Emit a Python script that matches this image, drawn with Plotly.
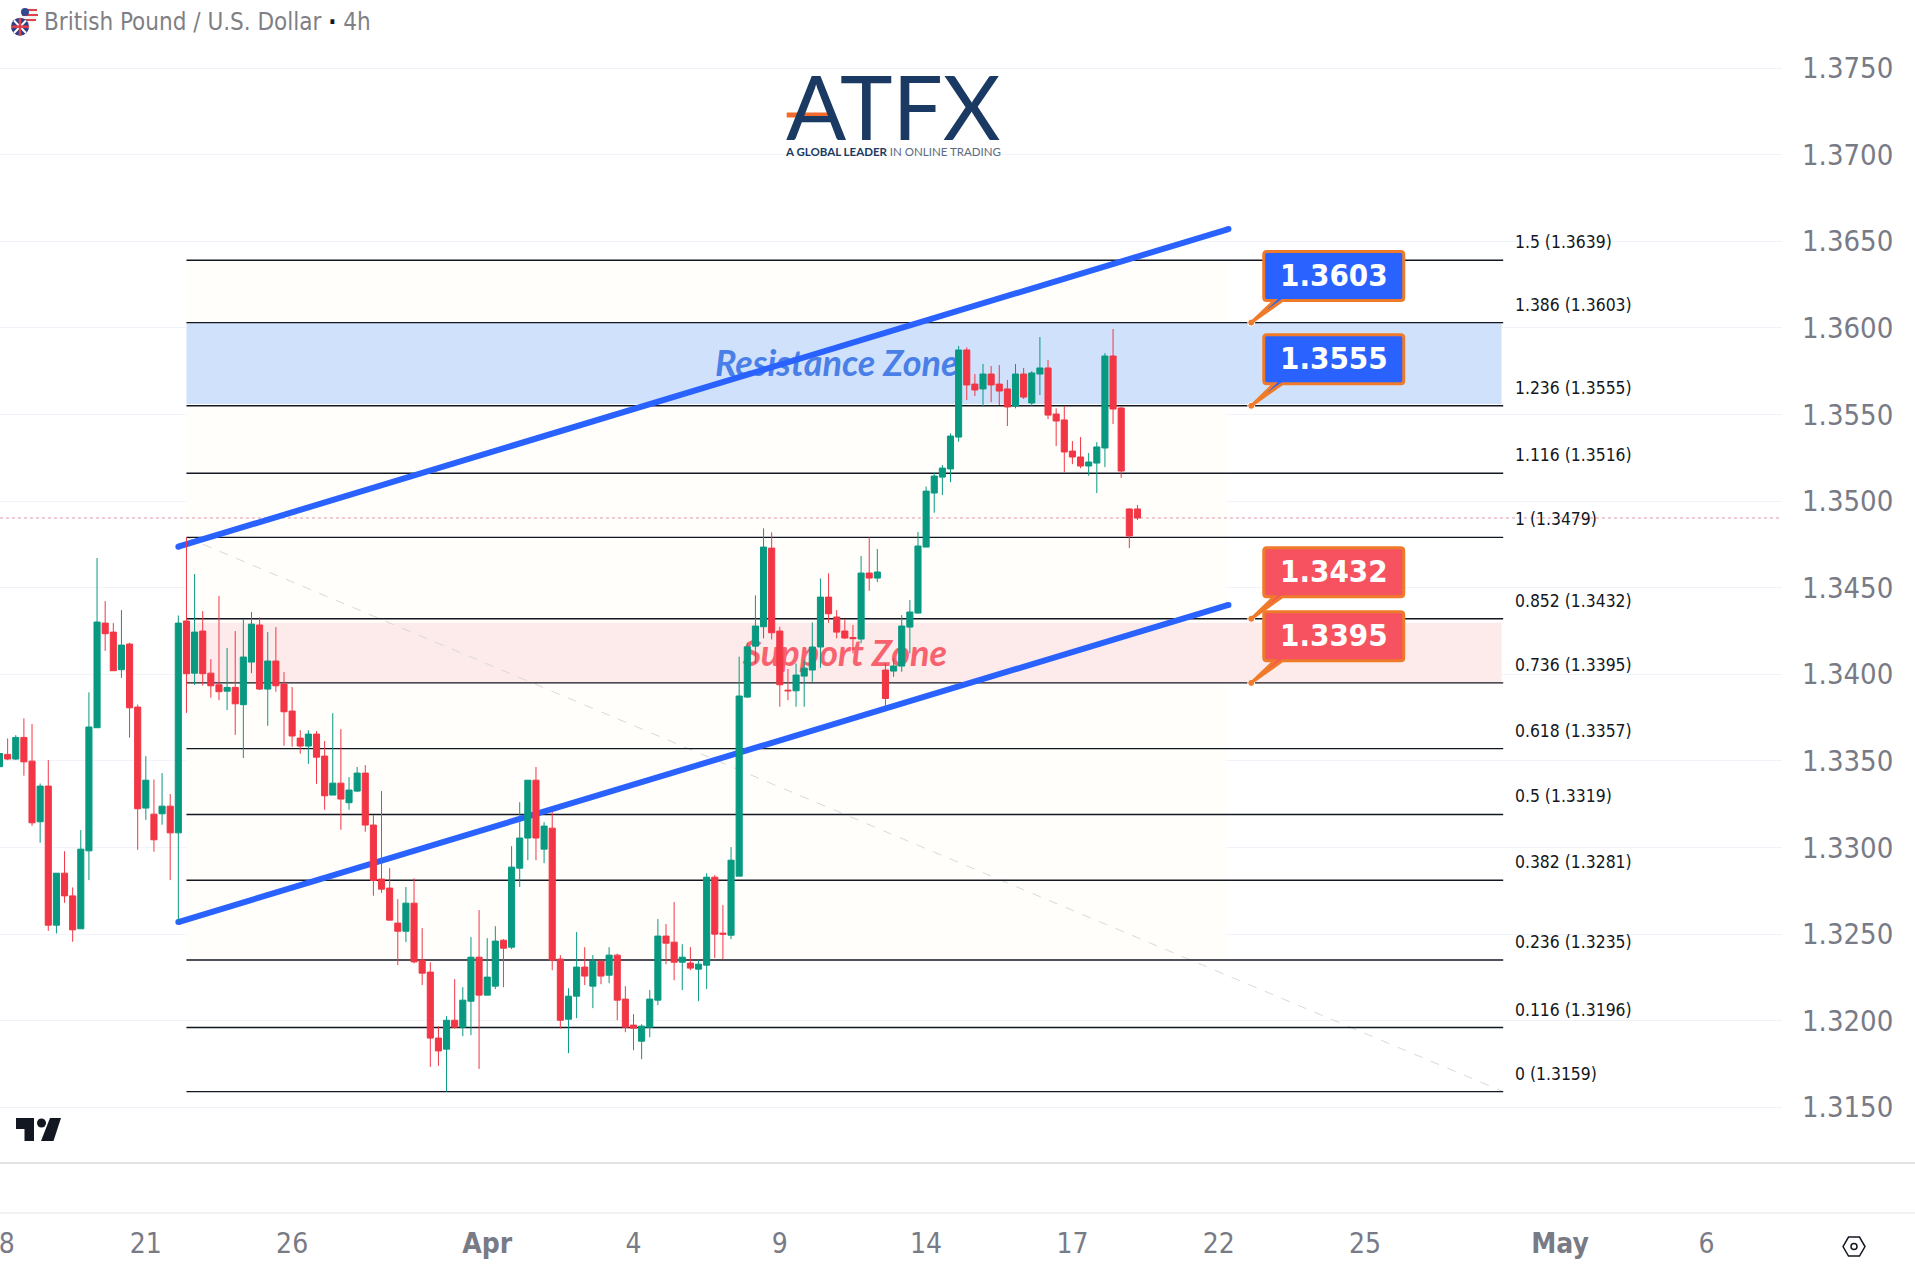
#!/usr/bin/env python
# -*- coding: utf-8 -*-
"""GBP/USD 4h chart with fibonacci levels and support / resistance zones."""

import plotly.graph_objects as go

# bar number 0 is the bar under the "21" date label
bar_index = list(range(-18, 123))

open_prices = [
    1.33466, 1.33537, 1.33510, 1.33635, 1.33498, 1.33148, 1.33354, 1.32551, 1.32851, 1.32720,
    1.32530, 1.32980, 1.33691, 1.34295, 1.34243, 1.34026, 1.34174, 1.33810, 1.33227, 1.33192,
    1.33194, 1.33238, 1.33084, 1.34307, 1.34006, 1.34249, 1.34006, 1.33939, 1.33902, 1.33924,
    1.33824, 1.34070, 1.34284, 1.33914, 1.34076, 1.33943, 1.33787, 1.33631, 1.33585, 1.33654,
    1.33527, 1.33302, 1.33371, 1.33258, 1.33325, 1.33429, 1.33129, 1.32817, 1.32765, 1.32563,
    1.32516, 1.32678, 1.32349, 1.32280, 1.31899, 1.31835, 1.32002, 1.31962, 1.32112, 1.32366,
    1.32147, 1.32199, 1.32464, 1.32424, 1.32880, 1.33054, 1.33388, 1.32990, 1.33111, 1.32355,
    1.32008, 1.32141, 1.32309, 1.32199, 1.32343, 1.32262, 1.32378, 1.32124, 1.31974, 1.31881,
    1.31962, 1.32118, 1.32488, 1.32453, 1.32337, 1.32332, 1.32297, 1.32320, 1.32828, 1.32505,
    1.32493, 1.32834, 1.33868, 1.34162, 1.34274, 1.34728, 1.34249, 1.33908, 1.33904, 1.33989,
    1.34024, 1.34157, 1.34445, 1.34330, 1.34249, 1.34212, 1.34203, 1.34584, 1.34555, 1.34024,
    1.34018, 1.34047, 1.34272, 1.34353, 1.34734, 1.35046, 1.35138, 1.35185, 1.35369, 1.35872,
    1.35675, 1.35647, 1.35733, 1.35675, 1.35647, 1.35548, 1.35733, 1.35566, 1.35733, 1.35768,
    1.35502, 1.35468, 1.35288, 1.35254, 1.35202, 1.35219, 1.35306, 1.35837, 1.35537, 1.34954,
    1.34954,
]
high_prices = [
    1.33643, 1.33629, 1.33648, 1.33745, 1.33712, 1.33369, 1.33504, 1.32851, 1.32978, 1.32769,
    1.33100, 1.33895, 1.34671, 1.34422, 1.34295, 1.34370, 1.34182, 1.33825, 1.33527, 1.33392,
    1.33429, 1.33308, 1.34339, 1.34790, 1.34578, 1.34364, 1.34087, 1.34451, 1.34151, 1.34249,
    1.34318, 1.34359, 1.34328, 1.34243, 1.34272, 1.34012, 1.33926, 1.33677, 1.33677, 1.33671,
    1.33614, 1.33775, 1.33683, 1.33406, 1.33464, 1.33475, 1.33186, 1.33325, 1.32880, 1.32701,
    1.32771, 1.32821, 1.32534, 1.32337, 1.31968, 1.32026, 1.32239, 1.32193, 1.32482, 1.32638,
    1.32476, 1.32545, 1.32470, 1.33007, 1.33261, 1.33388, 1.33464, 1.33146, 1.33204, 1.32378,
    1.32187, 1.32511, 1.32424, 1.32378, 1.32343, 1.32424, 1.32387, 1.32199, 1.32037, 1.31979,
    1.32176, 1.32586, 1.32557, 1.32684, 1.32441, 1.32424, 1.32349, 1.32851, 1.32840, 1.32667,
    1.33002, 1.34101, 1.34182, 1.34455, 1.34842, 1.34819, 1.34274, 1.34030, 1.34062, 1.34081,
    1.34299, 1.34553, 1.34582, 1.34370, 1.34318, 1.34284, 1.34682, 1.34790, 1.34723, 1.34062,
    1.34091, 1.34341, 1.34428, 1.34821, 1.35083, 1.35165, 1.35208, 1.35390, 1.35895, 1.35887,
    1.35733, 1.35791, 1.35779, 1.35785, 1.35699, 1.35791, 1.35768, 1.35750, 1.35947, 1.35814,
    1.35535, 1.35548, 1.35346, 1.35369, 1.35277, 1.35340, 1.35854, 1.35993, 1.35543, 1.34957,
    1.34977,
]
low_prices = [
    1.33442, 1.33504, 1.33504, 1.33414, 1.33125, 1.33027, 1.32518, 1.32503, 1.32680, 1.32455,
    1.32530, 1.32811, 1.33691, 1.34135, 1.34020, 1.33979, 1.33633, 1.32986, 1.33159, 1.32975,
    1.33131, 1.32811, 1.32570, 1.33777, 1.33939, 1.33935, 1.33864, 1.33850, 1.33793, 1.33650,
    1.33516, 1.34006, 1.33908, 1.33702, 1.33899, 1.33587, 1.33581, 1.33541, 1.33483, 1.33367,
    1.33217, 1.33302, 1.33102, 1.33217, 1.33319, 1.33090, 1.32721, 1.32738, 1.32580, 1.32320,
    1.32453, 1.32330, 1.32205, 1.31733, 1.31739, 1.31589, 1.31954, 1.31910, 1.31916, 1.31721,
    1.32147, 1.32182, 1.32193, 1.32413, 1.32771, 1.32926, 1.32926, 1.32909, 1.32291, 1.31954,
    1.31812, 1.32014, 1.32205, 1.32072, 1.32210, 1.32216, 1.32002, 1.31933, 1.31829, 1.31777,
    1.31904, 1.32089, 1.32326, 1.32233, 1.32176, 1.32291, 1.32112, 1.32182, 1.32361, 1.32355,
    1.32470, 1.32834, 1.33864, 1.34062, 1.34207, 1.34201, 1.33812, 1.33850, 1.33812, 1.33812,
    1.33956, 1.34037, 1.34297, 1.34207, 1.34203, 1.34120, 1.34178, 1.34482, 1.34532, 1.33812,
    1.33985, 1.34014, 1.34120, 1.34349, 1.34734, 1.34932, 1.35034, 1.35109, 1.35342, 1.35583,
    1.35606, 1.35548, 1.35571, 1.35554, 1.35433, 1.35535, 1.35589, 1.35548, 1.35612, 1.35473,
    1.35317, 1.35167, 1.35213, 1.35190, 1.35146, 1.35046, 1.35196, 1.35444, 1.35134, 1.34728,
    1.34890,
]
close_prices = [
    1.33542, 1.33510, 1.33635, 1.33494, 1.33142, 1.33354, 1.32551, 1.32851, 1.32720, 1.32524,
    1.32990, 1.33695, 1.34301, 1.34234, 1.34020, 1.34168, 1.33806, 1.33223, 1.33388, 1.33044,
    1.33238, 1.33084, 1.34295, 1.34003, 1.34243, 1.34003, 1.33933, 1.33899, 1.33924, 1.33829,
    1.34099, 1.34289, 1.33914, 1.34076, 1.33933, 1.33783, 1.33643, 1.33585, 1.33654, 1.33521,
    1.33298, 1.33371, 1.33279, 1.33331, 1.33429, 1.33129, 1.32809, 1.32759, 1.32580, 1.32516,
    1.32678, 1.32339, 1.32274, 1.31899, 1.31825, 1.32002, 1.31962, 1.32118, 1.32366, 1.32147,
    1.32251, 1.32459, 1.32418, 1.32886, 1.33054, 1.33388, 1.33054, 1.33123, 1.32349, 1.32002,
    1.32141, 1.32309, 1.32257, 1.32343, 1.32257, 1.32378, 1.32118, 1.31962, 1.31956, 1.31968,
    1.32124, 1.32488, 1.32447, 1.32337, 1.32366, 1.32303, 1.32326, 1.32828, 1.32499, 1.32499,
    1.32926, 1.33874, 1.34158, 1.34278, 1.34734, 1.34239, 1.33939, 1.33904, 1.33995, 1.34035,
    1.34157, 1.34445, 1.34349, 1.34243, 1.34209, 1.34205, 1.34584, 1.34555, 1.34590, 1.33860,
    1.34047, 1.34278, 1.34359, 1.34740, 1.35057, 1.35144, 1.35190, 1.35375, 1.35872, 1.35670,
    1.35641, 1.35733, 1.35670, 1.35635, 1.35543, 1.35733, 1.35600, 1.35739, 1.35768, 1.35496,
    1.35462, 1.35283, 1.35254, 1.35202, 1.35225, 1.35312, 1.35837, 1.35531, 1.35173, 1.34798,
    1.34902,
]

fib_ratios = ["1.5", "1.386", "1.236", "1.116", "1", "0.852", "0.736", "0.618", "0.5", "0.382", "0.236", "0.116", "0"]
fib_prices = [1.3639, 1.3603, 1.3555, 1.3516, 1.3479, 1.3432, 1.3395, 1.3357, 1.3319, 1.3281, 1.3235, 1.3196, 1.3159]

price_ticks = [1.315, 1.32, 1.325, 1.33, 1.335, 1.34, 1.345, 1.35, 1.355, 1.36, 1.365, 1.37, 1.375]
date_ticks = [-17.1, 0, 18, 42, 60, 78, 96, 114, 132, 150, 174, 192]
date_labels = ["8", "21", "26", "<b>Apr</b>", "4", "9", "14", "17", "22", "25", "<b>May</b>", "6"]

upper_channel_x = [4, 133.2]
upper_channel_y = [1.34736, 1.36570]
lower_channel_x = [4, 133.2]
lower_channel_y = [1.32569, 1.34400]

callout_prices = [1.3603, 1.3555, 1.3432, 1.3395]
callout_colors = ["#2962ff", "#2962ff", "#f7525f", "#f7525f"]

WIDTH = 1915
HEIGHT = 1264
PLOT_RIGHT = 1782
PLOT_BOTTOM = 1163
X_RANGE = [-17.94, 201.3]
FIB_START = 5
FIB_END = 167
CALLOUT_BAR = 136
TEXT_FONT = "DejaVu Sans Condensed, Lato, sans-serif"
AXIS_COLOR = "#787b86"
NAVY = "#1b3a63"


def px(x):
    return x / PLOT_RIGHT


def py(y):
    return (PLOT_BOTTOM - y) / PLOT_BOTTOM


def paper_path(points):
    """Closed svg path from page pixels."""
    path = " ".join(f"{'M' if n == 0 else 'L'} {px(x):.5f} {py(y):.5f}" for n, (x, y) in enumerate(points))
    return path + " Z"


def paper_shape(points, color):
    return dict(type="path", xref="paper", yref="paper", path=paper_path(points), fillcolor=color, line_width=0, layer="above")


def paper_line(x0, y0, x1, y1, color, width=1.0):
    return dict(
        type="line", xref="paper", yref="paper", x0=px(x0), y0=py(y0), x1=px(x1), y1=py(y1),
        line=dict(color=color, width=width), layer="above",
    )


def paper_circle(cx, cy, r, color, line_color=None, line_width=1):
    return dict(
        type="circle", xref="paper", yref="paper",
        x0=px(cx - r), x1=px(cx + r), y0=py(cy + r), y1=py(cy - r),
        fillcolor=color, line=dict(color=line_color or color, width=line_width if line_color else 0), layer="above",
    )


def zone(y0, y1, color):
    return dict(
        type="rect", xref="x", yref="y", x0=FIB_START, x1=FIB_END - 0.2, y0=y0, y1=y1,
        fillcolor=color, line_width=0, layer="between",
    )


def zone_text(text, x0, x1, y0, y1, color, size):
    return dict(
        type="rect", xref="x", yref="y", x0=x0, x1=x1, y0=y0, y1=y1,
        fillcolor="rgba(0,0,0,0)", line_width=0, layer="between",
        label=dict(
            text=text, textposition="middle center",
            font=dict(family="Lato, sans-serif", size=size, color=color, style="italic", weight="bold"),
        ),
    )


def channel(xs, ys):
    shapes = [
        dict(
            type="line", xref="x", yref="y", x0=xs[0], x1=xs[1], y0=ys[0], y1=ys[1],
            line=dict(color="#2962ff", width=6), layer="between",
        )
    ]
    for x, y in zip(xs, ys):
        shapes.append(
            dict(
                type="circle", xref="x", yref="y", xsizemode="pixel", ysizemode="pixel",
                xanchor=x, yanchor=y, x0=-3, x1=3, y0=-3, y1=3,
                fillcolor="#2962ff", line_width=0, layer="between",
            )
        )
    return shapes


def callout(price, color):
    """Rounded box with a tail, in pixels from the point it marks."""
    path = (
        "M 0 0 L 23 22 L 15.5 22 Q 12.5 22 12.5 25 L 12.5 68 Q 12.5 71 15.5 71 "
        "L 149.5 71 Q 152.5 71 152.5 68 L 152.5 25 Q 152.5 22 149.5 22 L 31 22 Z"
    )
    return dict(
        type="path", xref="x", yref="y", xsizemode="pixel", ysizemode="pixel",
        xanchor=CALLOUT_BAR, yanchor=price, path=path, fillcolor=color,
        line=dict(color="#ef7b2a", width=3), layer="above",
    )


fig = go.Figure()
fig.add_trace(
    go.Candlestick(
        x=bar_index,
        open=open_prices,
        high=high_prices,
        low=low_prices,
        close=close_prices,
        increasing=dict(line=dict(color="#089981", width=1), fillcolor="#089981"),
        decreasing=dict(line=dict(color="#f23645", width=1), fillcolor="#f23645"),
        whiskerwidth=0,
        hoverinfo="skip",
    )
)
fig.add_trace(
    go.Scatter(
        x=[CALLOUT_BAR] * len(callout_prices),
        y=callout_prices,
        mode="markers",
        marker=dict(size=7, color="#ef7b2a", line=dict(color="#ffffff", width=1)),
        hoverinfo="skip",
    )
)

shapes = [
    # pale fibonacci background, then the two zones
    dict(
        type="rect", xref="x", yref="y", x0=FIB_START, x1=133, y0=fib_prices[10], y1=fib_prices[0],
        fillcolor="#fffefb", line_width=0, layer="between",
    ),
    zone(1.3395, 1.34297, "#fdeaea"),
    zone(1.3556, 1.3603, "#d0e2fb"),
    zone_text("Resistance Zone", 70, 100, 1.3568, 1.3592, "#4a7fe8", 36),
    zone_text("Support Zone", 73, 99, 1.3401, 1.3425, "#f7626e", 36),
    dict(
        type="line", xref="x", yref="y", x0=FIB_START, x1=FIB_END, y0=fib_prices[4], y1=fib_prices[-1],
        line=dict(color="#d9d9d9", width=1, dash="dash"), layer="between",
    ),
    # last price
    dict(
        type="line", xref="x", yref="y", x0=X_RANGE[0], x1=X_RANGE[1], y0=close_prices[-1], y1=close_prices[-1],
        line=dict(color="rgba(190,60,90,0.65)", width=0.8, dash="dot"), layer="between",
    ),
]
for price in fib_prices:
    shapes.append(
        dict(
            type="line", xref="x", yref="y", x0=FIB_START, x1=FIB_END, y0=price, y1=price,
            line=dict(color="#131722", width=1.4), layer="between",
        )
    )
shapes += channel(upper_channel_x, upper_channel_y)
shapes += channel(lower_channel_x, lower_channel_y)
for price, color in zip(callout_prices, callout_colors):
    shapes.append(callout(price, color))

# frame lines under the chart
shapes.append(paper_line(0, PLOT_BOTTOM, WIDTH, PLOT_BOTTOM, "#e3e3e3", 2))
shapes.append(paper_line(0, 1213, WIDTH, 1213, "#e3e3e3", 1))

# tradingview mark
shapes.append(paper_shape([(16, 1118), (34, 1118), (34, 1141), (24.5, 1141), (24.5, 1129), (16, 1129)], "#131722"))
shapes.append(paper_circle(41.5, 1123, 4.5, "#131722"))
shapes.append(paper_shape([(50, 1118), (61, 1118), (53.5, 1141), (41, 1141)], "#131722"))

# settings icon
shapes.append(
    dict(
        type="path", xref="paper", yref="paper",
        path=paper_path([(1843, 1246.5), (1848.5, 1237), (1859.5, 1237), (1865, 1246.5), (1859.5, 1256), (1848.5, 1256)]),
        fillcolor="rgba(0,0,0,0)", line=dict(color="#131722", width=1.5), layer="above",
    )
)
shapes.append(paper_circle(1854, 1246.5, 3, "rgba(0,0,0,0)", "#131722", 1.5))

# flags
shapes.append(paper_circle(29.5, 15.5, 8, "#f2f2f2"))
shapes.append(paper_line(24, 10, 37, 10, "#e0404a", 2))
shapes.append(paper_line(22, 15, 38, 15, "#e0404a", 2))
shapes.append(paper_line(24, 20, 36, 20, "#e0404a", 2))
shapes.append(paper_circle(25, 12, 4, "#33478f"))
shapes.append(paper_circle(20, 26.7, 9, "#2b3f86"))
shapes.append(paper_line(14, 20.5, 26, 33, "#ffffff", 2))
shapes.append(paper_line(26, 20.5, 14, 33, "#ffffff", 2))
shapes.append(paper_line(20, 18, 20, 35.5, "#e0404a", 2.5))
shapes.append(paper_line(11, 26.7, 29, 26.7, "#e0404a", 2.5))

# logo crossbar
shapes.append(paper_line(786.7, 115, 830, 115, "#f26b2b", 5))

annotations = []
for ratio, price in zip(fib_ratios, fib_prices):
    annotations.append(
        dict(
            x=FIB_END + 1.2, y=price, xref="x", yref="y", xanchor="left", yanchor="middle", yshift=18,
            text=f"{ratio} ({price:.4f})", showarrow=False, font=dict(family=TEXT_FONT, size=17.4, color="#131722"),
        )
    )
for price in callout_prices:
    annotations.append(
        dict(
            x=CALLOUT_BAR, y=price, xref="x", yref="y", xanchor="center", yanchor="middle",
            xshift=82.5, yshift=47.5, text=f"<b>{price:.4f}</b>", showarrow=False,
            font=dict(family=TEXT_FONT, size=31, color="#ffffff"),
        )
    )
annotations.append(
    dict(
        x=px(42), y=py(22), xref="paper", yref="paper", xanchor="left", yanchor="middle", showarrow=False,
        text='British Pound / U.S. Dollar <span style="color:#131722"><b>·</b></span> 4h',
        font=dict(family=TEXT_FONT, size=24, color="#7f7f85"),
    )
)
annotations.append(
    dict(
        x=px(893), y=py(106), xref="paper", yref="paper", xanchor="center", yanchor="middle", showarrow=False,
        text="ATFX", font=dict(family="Lato, sans-serif", size=89, color=NAVY),
    )
)
annotations.append(
    dict(
        x=px(893), y=py(151.5), xref="paper", yref="paper", xanchor="center", yanchor="middle", showarrow=False,
        text='<b>A GLOBAL LEADER</b> <span style="color:#5c6b80">IN ONLINE TRADING</span>',
        font=dict(family="Lato, sans-serif", size=11.5, color=NAVY),
    )
)

fig.update_layout(
    width=WIDTH,
    height=HEIGHT,
    margin=dict(l=0, r=WIDTH - PLOT_RIGHT, t=0, b=HEIGHT - PLOT_BOTTOM, pad=0),
    paper_bgcolor="#ffffff",
    plot_bgcolor="#ffffff",
    showlegend=False,
    boxgap=0.25,
    boxgroupgap=0,
    shapes=shapes,
    annotations=annotations,
)
fig.update_xaxes(
    type="linear",
    range=X_RANGE,
    rangeslider_visible=False,
    showgrid=False,
    zeroline=False,
    showline=False,
    tickmode="array",
    tickvals=date_ticks,
    ticktext=date_labels,
    ticks="",
    ticklabelstandoff=61,
    ticklabeloverflow="allow",
    tickfont=dict(family=TEXT_FONT, size=28, color=AXIS_COLOR),
)
fig.update_yaxes(
    range=[1.311778, 1.378926],
    side="right",
    showgrid=True,
    gridcolor="#f0f3fa",
    gridwidth=1,
    zeroline=False,
    showline=False,
    tickmode="array",
    tickvals=price_ticks,
    tickformat=".4f",
    ticks="",
    ticklabelstandoff=19,
    tickfont=dict(family=TEXT_FONT, size=29, color=AXIS_COLOR),
)

fig.write_html(
    "out.html",
    config={"displayModeBar": False},
    post_script="document.body.style.margin='0';document.body.style.overflow='hidden';",
)
